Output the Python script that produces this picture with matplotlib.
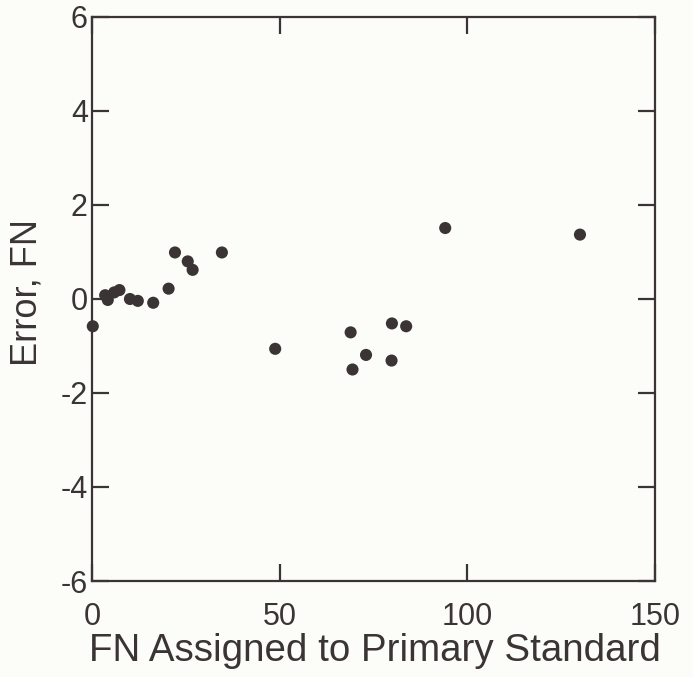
import matplotlib
matplotlib.use("Agg")
import matplotlib.pyplot as plt

# Data
fn_assigned = [0.2, 3.5, 4.2, 5.9, 7.3, 10.1, 12.2, 16.3, 20.4, 22.1, 25.5, 26.8,
               34.6, 48.8, 68.9, 69.4, 73.0, 79.9, 79.8, 83.7, 94.1, 130.0]
error_fn = [-0.58, 0.08, -0.02, 0.14, 0.19, 0.00, -0.04, -0.08, 0.22, 0.99, 0.80, 0.62,
            0.99, -1.06, -0.71, -1.50, -1.19, -0.52, -1.31, -0.58, 1.51, 1.37]
x_ticks = [0, 50, 100, 150]
y_ticks = [-6, -4, -2, 0, 2, 4, 6]

ink = "#3b3434"
bg = "#fcfcf8"

plt.rcParams["font.family"] = ["Liberation Sans", "DejaVu Sans"]

fig = plt.figure(figsize=(6.93, 6.77), dpi=100, facecolor=bg)
ax = fig.add_axes([0.1328, 0.1418, 0.8124, 0.8331], facecolor=bg)

ax.scatter(fn_assigned, error_fn, s=76, color=ink, edgecolors="none", zorder=3, clip_on=False)

ax.set_xlim(0, 150)
ax.set_ylim(-6, 6)
ax.set_xticks(x_ticks)
ax.set_yticks(y_ticks)
ax.set_xticklabels([str(t) for t in x_ticks])
ax.set_yticklabels([str(t) for t in y_ticks])

for s in ax.spines.values():
    s.set_linewidth(1.6)
    s.set_color(ink)

ax.tick_params(axis="both", which="major", direction="in", length=12, width=1.6,
               color=ink, labelcolor=ink, labelsize=22, top=True, right=True)
ax.tick_params(axis="x", pad=15)
ax.tick_params(axis="y", pad=3)

ax.set_xlabel("FN Assigned to Primary Standard", fontsize=27.7, color=ink)
ax.set_ylabel("Error, FN", fontsize=26, color=ink, fontweight="medium")
ax.xaxis.set_label_coords(0.502, -0.092)
ax.yaxis.set_label_coords(-0.085, 0.512)

fig.savefig("out.png", dpi=100, facecolor=bg)
